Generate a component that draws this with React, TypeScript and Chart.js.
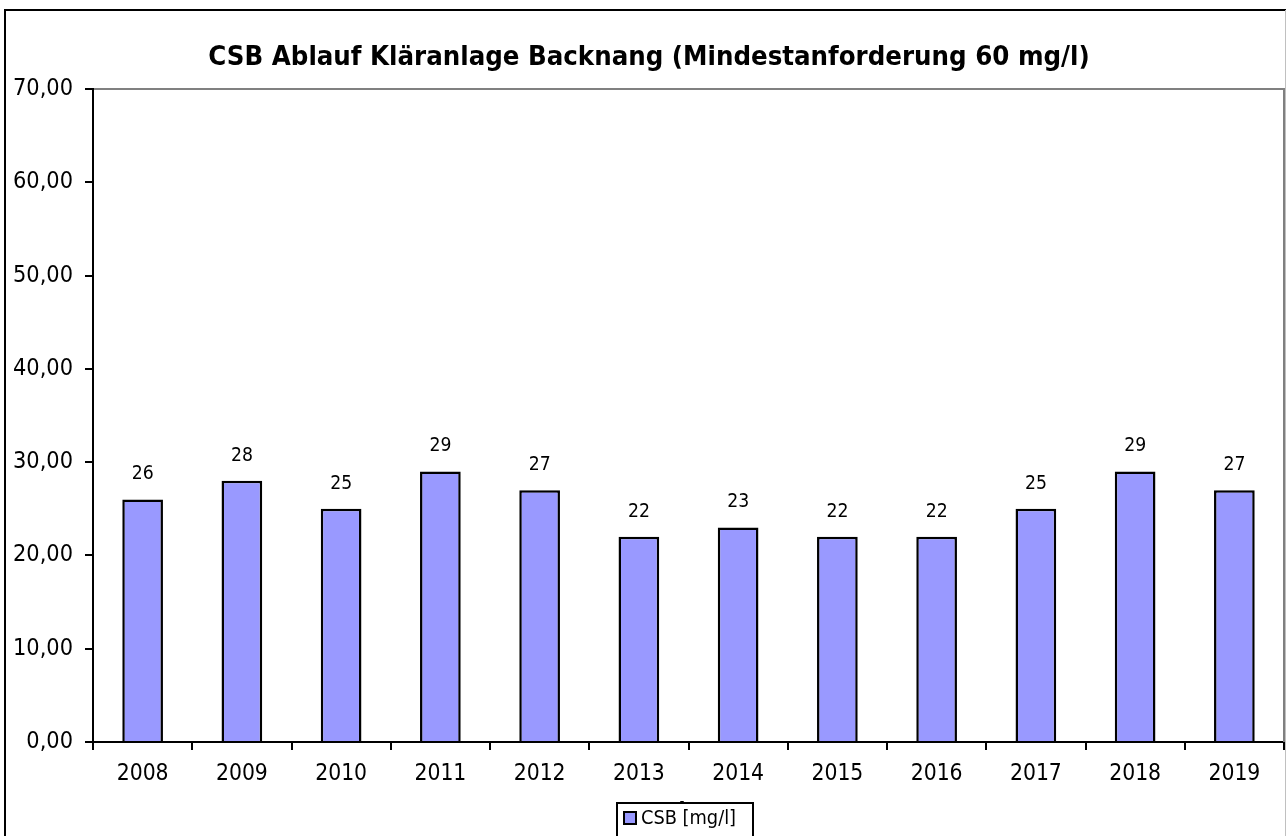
import React, { useEffect, useRef } from "react";
import { Chart, registerables } from "chart.js";

Chart.register(...registerables);

const TITLE = "CSB Ablauf Kläranlage Backnang (Mindestanforderung 60 mg/l)";
const X_TITLE = "Jahr";
const SERIES_NAME = "CSB [mg/l]";
const YEARS = ["2008", "2009", "2010", "2011", "2012", "2013", "2014", "2015", "2016", "2017", "2018", "2019"];
const CSB_VALUES = [26, 28, 25, 29, 27, 22, 23, 22, 22, 25, 29, 27];
const Y_MIN = 0;
const Y_MAX = 70;
const Y_STEP = 10;

const FAMILY = "'DejaVu Sans Condensed', 'Liberation Sans Narrow', 'DejaVu Sans', sans-serif";
const BAR_FILL = "#9999FF";

function fitSize(text: string, weight: string, target: number): number {
  const c = document.createElement("canvas");
  const ctx = c.getContext("2d")!;
  ctx.font = `${weight} 100px ${FAMILY}`;
  const w = ctx.measureText(text).width;
  return Math.max(8, Math.round((100 * target) / w * 10) / 10);
}

export default function App() {
  const ref = useRef<HTMLCanvasElement | null>(null);

  useEffect(() => {
    const canvas = ref.current;
    if (!canvas) return;

    const titleSize = fitSize(TITLE, "bold", 882);
    const yTickSize = fitSize("70,00", "normal", 60);
    const xTickSize = fitSize("2008", "normal", 52);
    const labelSize = fitSize("26", "normal", 22);
    const legendSize = fitSize(SERIES_NAME, "normal", 95);

    const decor = {
      id: "decor",
      beforeDraw(chart: any) {
        const ctx = chart.ctx;
        ctx.save();
        ctx.fillStyle = "#ffffff";
        ctx.fillRect(0, 0, chart.width, chart.height);
        ctx.restore();
      },
      afterDatasetsDraw(chart: any) {
        const ctx = chart.ctx;
        const meta = chart.getDatasetMeta(0);
        ctx.save();
        ctx.fillStyle = "#000";
        ctx.font = `normal ${labelSize}px ${FAMILY}`;
        ctx.textAlign = "center";
        ctx.textBaseline = "middle";
        meta.data.forEach((bar: any, i: number) => {
          ctx.fillText(String(CSB_VALUES[i]), bar.x, bar.y - 25);
        });
        ctx.restore();
      },
      afterDraw(chart: any) {
        const ctx = chart.ctx;
        const a = chart.chartArea;
        ctx.save();
        // plot frame top/right (gray)
        ctx.strokeStyle = "#808080";
        ctx.lineWidth = 2;
        ctx.beginPath();
        ctx.moveTo(a.left + 1, a.top);
        ctx.lineTo(a.right, a.top);
        ctx.lineTo(a.right, a.bottom);
        ctx.stroke();

        // title
        ctx.fillStyle = "#000";
        ctx.font = `bold ${titleSize}px ${FAMILY}`;
        ctx.textAlign = "center";
        ctx.textBaseline = "middle";
        ctx.fillText(TITLE, 649, 58);

        // x axis title (mostly hidden by legend)
        ctx.font = `bold ${xTickSize}px ${FAMILY}`;
        ctx.textBaseline = "alphabetic";
        ctx.fillText(X_TITLE, 680, 819);

        // legend box
        const lx = 617, ly = 803, lw = 136, lh = 50;
        ctx.fillStyle = "#fff";
        ctx.fillRect(lx, ly, lw, lh);
        ctx.strokeStyle = "#000";
        ctx.lineWidth = 2;
        ctx.strokeRect(lx, ly, lw, lh);
        ctx.fillStyle = BAR_FILL;
        ctx.fillRect(624, 812, 12, 12);
        ctx.lineWidth = 2;
        ctx.strokeRect(624, 812, 12, 12);
        ctx.fillStyle = "#000";
        ctx.font = `normal ${legendSize}px ${FAMILY}`;
        ctx.textAlign = "left";
        ctx.textBaseline = "middle";
        ctx.fillText(SERIES_NAME, 641, 819);

        // outer border
        ctx.strokeStyle = "#000";
        ctx.lineWidth = 2;
        ctx.strokeRect(5, 10, 1300, 900);
        ctx.strokeStyle = "#c0c0c0";
        ctx.lineWidth = 1;
        ctx.beginPath();
        ctx.moveTo(1285.5, 10);
        ctx.lineTo(1285.5, 836);
        ctx.stroke();
        ctx.restore();
      },
    };

    const chart = new Chart(canvas, {
      type: "bar",
      data: {
        labels: YEARS,
        datasets: [
          {
            label: SERIES_NAME,
            data: CSB_VALUES,
            backgroundColor: BAR_FILL,
            borderColor: "#000",
            borderWidth: 2.5,
            categoryPercentage: 1,
            barPercentage: 0.41,
          },
        ],
      },
      options: {
        responsive: false,
        animation: false,
        devicePixelRatio: 1,
        layout: { padding: { left: 0, top: 89, right: 2, bottom: 0 } },
        plugins: {
          legend: { display: false },
          title: { display: false },
          tooltip: { enabled: false },
        },
        scales: {
          x: {
            afterFit: (s: any) => {
              s.height = 94;
            },
            grid: {
              offset: true,
              drawOnChartArea: false,
              drawTicks: true,
              tickLength: 8,
              color: "#000",
              lineWidth: 2,
            },
            border: { display: true, color: "#000", width: 2 },
            ticks: {
              color: "#000",
              padding: 10,
              font: { family: FAMILY, size: xTickSize },
              maxRotation: 0,
            },
          },
          y: {
            min: Y_MIN,
            max: Y_MAX,
            afterFit: (s: any) => {
              s.width = 93;
            },
            grid: {
              drawOnChartArea: false,
              drawTicks: true,
              tickLength: 8,
              color: "#000",
              lineWidth: 2,
            },
            border: { display: true, color: "#000", width: 2 },
            ticks: {
              stepSize: Y_STEP,
              color: "#000",
              padding: 12,
              font: { family: FAMILY, size: yTickSize },
              callback: (v: any) => Number(v).toFixed(2).replace(".", ","),
            },
          },
        },
      },
      plugins: [decor],
    });

    return () => chart.destroy();
  }, []);

  return (
    <div style={{ position: "fixed", left: 0, top: 0, width: 1286, height: 836, background: "#fff" }}>
      <canvas ref={ref} width={1286} height={836} style={{ display: "block", width: 1286, height: 836 }} />
    </div>
  );
}
